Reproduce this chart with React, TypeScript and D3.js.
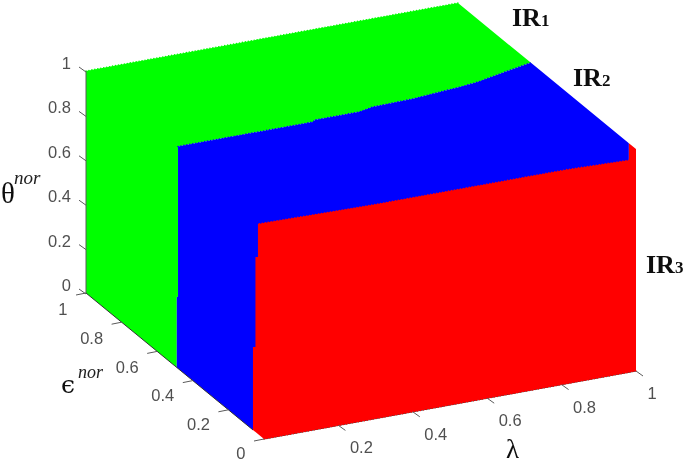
import React from "react";
import * as d3 from "d3";

type P3 = [number, number, number]; // lambda, epsilon, theta

const lambdaTicks = [0, 0.2, 0.4, 0.6, 0.8, 1];
const epsilonTicks = [0, 0.2, 0.4, 0.6, 0.8, 1];
const thetaTicks = [0, 0.2, 0.4, 0.6, 0.8, 1];

// IR1 / IR2 boundary on the top face
const ir12Boundary: P3[] = [
  [0, 0.483, 1], [0.362, 0.482, 1], [0.372, 0.491, 1], [0.49, 0.491, 1], [0.534, 0.505, 1],
  [0.642, 0.509, 1], [0.722, 0.52, 1], [0.779, 0.527, 1], [0.832, 0.537, 1], [0.918, 0.565, 1], [1, 0.59, 1],
];
// IR2 / IR3 boundary on the front of the solid
const ir23Boundary: P3[] = [
  [1, 0.04, 0.923], [0.832, 0.04, 0.932], [0.308, 0.037, 0.935], [0, 0.034, 0.946],
];
const ir12LeftEdge: P3[] = [[0, 0.483, 0.322], [0, 0.49, 0.318], [0, 0.49, 0]];
const ir23LeftEdge: P3[] = [
  [0, 0.034, 0.797], [0, 0.048, 0.788], [0, 0.048, 0.383], [0, 0.062, 0.374], [0, 0.062, 0],
];
const ir1Outer: P3[] = [[0, 1, 0], [0, 1, 1], [1, 1, 1]];
const ir2Outer: P3[] = [[1, 0.04, 1], [1, 0.04, 0.5], [0, 0.062, 0]];
const ir3Outer: P3[] = [[0, 0, 0], [1, 0, 0], [1, 0, 1], [1, 0.04, 1]];

const GREEN = "#00ff00";
const BLUE = "#0000ff";
const RED = "#ff0000";
const AXIS = "#5a5a5a";
const TICKTEXT = "#505050";

// Oblique projection built from per-axis scales
const lx = d3.scaleLinear().domain([0, 1]).range([0, 372]);
const ly = d3.scaleLinear().domain([0, 1]).range([0, -68]);
const ex = d3.scaleLinear().domain([0, 1]).range([0, -178]);
const ey = d3.scaleLinear().domain([0, 1]).range([0, -146]);
const ty = d3.scaleLinear().domain([0, 1]).range([0, -222]);
const OX = 264;
const OY = 439;
const proj = ([l, e, t]: P3): [number, number] => [OX + lx(l) + ex(e), OY + ly(l) + ey(e) + ty(t)];
const line = d3.line<P3>().x((p) => proj(p)[0]).y((p) => proj(p)[1]);
const closed = (pts: P3[]) => line(pts) + "Z";

const scallop = (pts: P3[], color: string, key: string) => (
  <path key={key} d={line(pts) || ""} fill="none" stroke={color} strokeWidth={1.6} strokeLinecap="round" strokeDasharray="0 3" />
);

export default function App() {
  const poly1 = [...ir1Outer, ...[...ir12Boundary].reverse(), ...ir12LeftEdge];
  const poly2 = [...ir12Boundary, ...ir2Outer, ...[...ir12LeftEdge].reverse()];
  const poly3 = [...ir3Outer, ...ir23Boundary, ...ir23LeftEdge];
  const sans = "'Liberation Sans', Arial, sans-serif";
  const serif = "'Liberation Serif', 'Times New Roman', serif";
  return (
    <svg width={685} height={461} style={{ position: "absolute", left: 0, top: 0, background: "#fff" }}>
      <defs>
        <filter id="soft" x="-10%" y="-10%" width="120%" height="120%">
          <feGaussianBlur stdDeviation="0.35" />
        </filter>
      </defs>
      {/* lambda axis below the markers */}
      <path d={line([[0, 0, 0], [1, 0, 0]]) || ""} stroke="#333" strokeWidth={1} fill="none" />
      <path d={closed(poly1)} fill={GREEN} />
      <path d={closed(poly2)} fill={BLUE} />
      <path d={closed(poly3)} fill={RED} />
      {scallop(ir1Outer.slice(1), GREEN, "s1")}
      {scallop(ir12Boundary, BLUE, "s3")}
      {scallop(ir23Boundary, RED, "s5")}
      {scallop([[0, 0, 0], [1, 0, 0]], RED, "s6")}

      <g filter="url(#soft)">
        <path d={line([[0, 1, 0], [0, 1, 1]]) || ""} stroke={AXIS} strokeWidth={1} fill="none" />
        <path d={line([[0, 1, 0], [0, 0.062, 0]]) || ""} stroke="#333" strokeWidth={1} fill="none" />
        {thetaTicks.map((t) => {
          const [x, y] = proj([0, 1, t]);
          return (
            <g key={"t" + t}>
              <line x1={x} y1={y + 1} x2={x - 7} y2={y - 4} stroke={AXIS} />
              <text x={71} y={y - 2} textAnchor="end" fontFamily={sans} fontSize={16.5} fill={TICKTEXT}>{t}</text>
            </g>
          );
        })}
        {epsilonTicks.map((e) => {
          const [x, y] = proj([0, e, 0]);
          return (
            <g key={"e" + e}>
              <line x1={x} y1={y} x2={x - 10} y2={y + 2} stroke={AXIS} />
              <text x={x - 18.5} y={y + 20 + 2 * e} textAnchor="end" fontFamily={sans} fontSize={16.5} fill={TICKTEXT}>{e}</text>
            </g>
          );
        })}
        {lambdaTicks.slice(1).map((l) => {
          const [x, y] = proj([l, 0, 0]);
          return (
            <g key={"l" + l}>
              <line x1={x} y1={y} x2={x + 7} y2={y + 5} stroke={AXIS} />
              <text x={x + 11.5} y={y + 28} fontFamily={sans} fontSize={16.5} fill={TICKTEXT}>{l}</text>
            </g>
          );
        })}

        <text x={1} y={203} fontFamily={serif} fontSize={29} fill="#111">θ</text>
        <text x={14} y={184} fontFamily={serif} fontStyle="italic" fontSize={19} fill="#222">nor</text>
        <text x={61} y={393} fontFamily={"'DejaVu Serif', serif"} fontSize={25} fill="#111">ϵ</text>
        <text x={78} y={378} fontFamily={serif} fontStyle="italic" fontSize={18} fill="#222">nor</text>
        <text x={506} y={458} fontFamily={serif} fontSize={27} fill="#111">λ</text>

        {[
          { x: 512, y: 26, s: "1" },
          { x: 573, y: 86, s: "2" },
          { x: 646, y: 273, s: "3" },
        ].map((d) => (
          <text key={d.s} x={d.x} y={d.y} fontFamily={serif} fontWeight="bold" fontSize={26} fill="#111">
            IR<tspan fontSize={17}>{d.s}</tspan>
          </text>
        ))}
      </g>
    </svg>
  );
}
